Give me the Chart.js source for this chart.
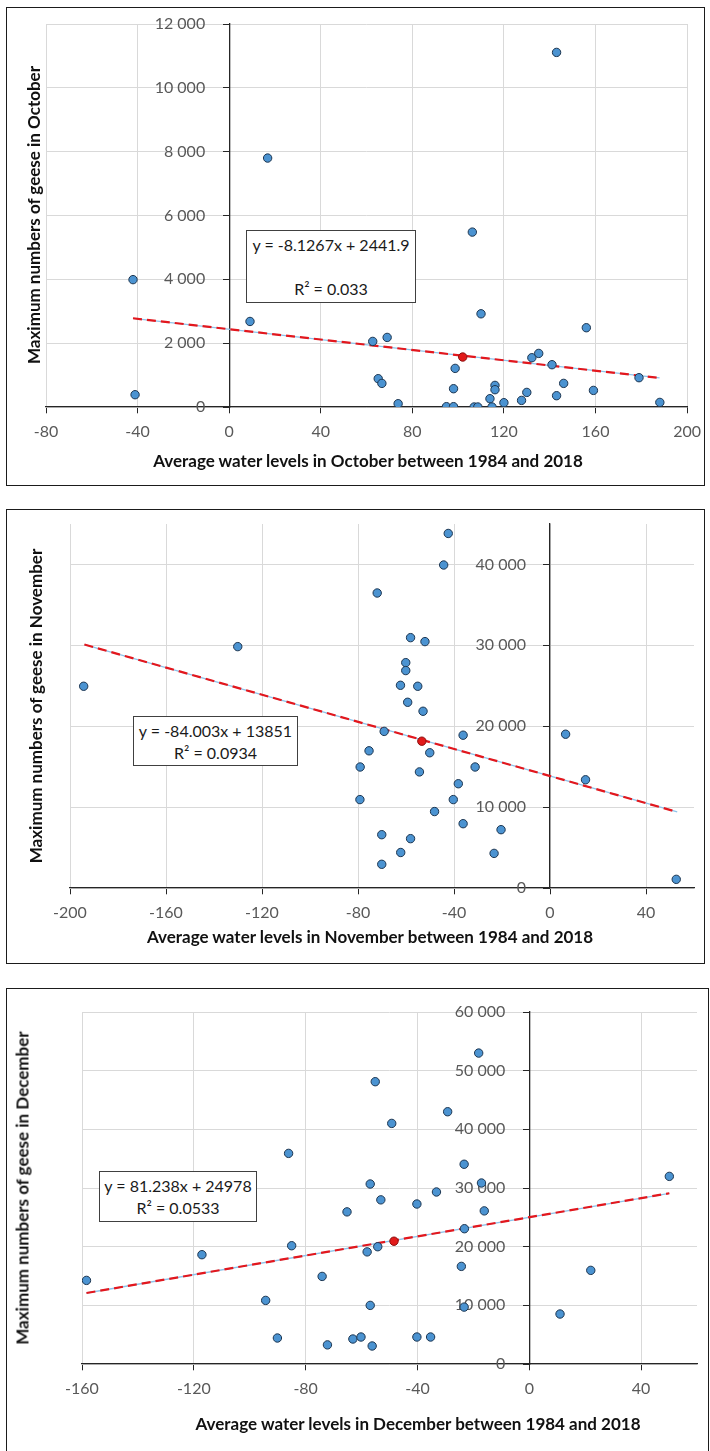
<!DOCTYPE html>
<html>
<head>
<meta charset="utf-8">
<script src="https://cdn.jsdelivr.net/npm/chart.js@4.4.1/dist/chart.umd.min.js"></script>
<style>
  body { margin: 0; background: #fff; font-family: Lato, "Noto Sans", sans-serif; }
  #page { position: relative; width: 710px; height: 1451px; overflow: hidden; }
  .panel { position: absolute; border: 1.5px solid #1b1b1b; box-sizing: border-box; }
  .plot { position: absolute; left: 0; width: 710px; }
  .ytitle, .xtitle { position: absolute; font-weight: bold; font-size: 17px; color: #111; white-space: nowrap; }
  .ytitle { transform: translate(-50%, -50%) rotate(-90deg); }
  .xtitle { transform: translate(-50%, -50%); }
  .eq { position: absolute; box-sizing: border-box; border: 1.3px solid #404040; background: #fff;
        text-align: center; font-size: 16px; line-height: 22px; color: #1a1a1a; padding-top: 3px; }
</style>
</head>
<body>
<div id="page">
  <div class="panel" style="left:6px;top:7px;width:699px;height:479px"></div>
  <div class="panel" style="left:6px;top:509px;width:699px;height:455px"></div>
  <div class="panel" style="left:6px;top:988px;width:703px;height:480px"></div>

  <div class="plot" style="top:7px;height:478px"><canvas id="octChart"></canvas></div>
  <div class="plot" style="top:509px;height:454px"><canvas id="novChart"></canvas></div>
  <div class="plot" style="top:988px;height:463px"><canvas id="decChart"></canvas></div>

  <div class="ytitle" style="left:33px;top:215px">Maximum numbers of geese in October</div>
  <div class="xtitle" style="left:368px;top:460px">Average water levels in October between 1984 and 2018</div>
  <div class="eq" style="left:246px;top:230px;width:170px;height:73px">y = -8.1267x + 2441.9<br><br>R² = 0.033</div>

  <div class="ytitle" style="left:35px;top:706px">Maximum numbers of geese in November</div>
  <div class="xtitle" style="left:370px;top:936px">Average water levels in November between 1984 and 2018</div>
  <div class="eq" style="left:133px;top:716px;width:165px;height:50px">y = -84.003x + 13851<br>R² = 0.0934</div>

  <div class="ytitle" style="left:22px;top:1188px">Maximum numbers of geese in December</div>
  <div class="xtitle" style="left:418px;top:1423px">Average water levels in December between 1984 and 2018</div>
  <div class="eq" style="left:99px;top:1171px;width:158px;height:51px">y = 81.238x + 24978<br>R² = 0.0533</div>
</div>

<script>
// October
const octX = [-42, -41.1, 9.1, 16.8, 143, 106.2, 110, 156, 62.7, 69, 132.2, 135.2, 141, 98.7, 65.1, 66.7,
  98, 116.1, 116.1, 146.1, 159.1, 179, 130, 143, 113.9, 127.7, 120, 73.8, 188.1, 94.9, 98, 107, 108.6, 114.8];
const octY = [3990, 385, 2680, 7800, 11110, 5480, 2920, 2484, 2055, 2180, 1544, 1679, 1325, 1210, 887, 740,
  573, 677, 542, 740, 520, 918, 457, 354, 260, 207, 135, 103, 144, 10, 10, 0, 0, 0];
const octMean = [102, 1566];
const octTrendX = [-42, 188];
const octTrendY = [2780, 910];
const octXTicks = [-80, -40, 0, 40, 80, 120, 160, 200];
const octYTicks = [0, 2000, 4000, 6000, 8000, 10000, 12000];

// November
const novX = [-194.3, -130.1, -42.4, -44.3, -72, -58.1, -52.1, -60.1, -60.1, -62.3, -55.1, -59.3, -52.9,
  -69.1, -36.2, 6.5, -75.4, -50.1, -79.1, -31.2, -54.4, 14.8, -38.2, -79.2, -40.3, -48.1, -36.2, -20.4,
  -70.1, -58.1, -62.2, -23.3, -70.1, 52.6];
const novY = [24940, 29840, 43830, 39930, 36470, 30950, 30460, 27860, 26880, 25060, 24940, 22960, 21850,
  19360, 18890, 19010, 16960, 16720, 14960, 14960, 14350, 13380, 12890, 10930, 10930, 9450, 7950, 7210,
  6590, 6100, 4390, 4280, 2930, 1070];
const novMean = [-53.4, 18150];
const novTrendX = [-194, 53];
const novTrendY = [30100, 9400];
const novXTicks = [-200, -160, -120, -80, -40, 0, 40];
const novYTicks = [0, 10000, 20000, 30000, 40000];

// December
const decX = [-158.4, -117.1, -86.1, -85, -74.1, -94.3, -90.1, -72.2, -65.2, -63.1, -18.1, -55.1, -29.2,
  -49.2, -23.3, -56.9, -17.1, 50.1, -33.2, -53.1, -40.2, -16.1, -23.2, -54.2, -58, -24.3, 22, -56.9,
  -23.3, 11, -60.2, -40.2, -35.3, -56.2];
const decY = [14250, 18630, 35900, 20160, 14930, 10840, 4430, 3260, 25930, 4260, 53000, 48120, 43000,
  41010, 34050, 30680, 30850, 31980, 29320, 27980, 27270, 26100, 23060, 19990, 19110, 16640, 15960, 9990,
  9700, 8520, 4600, 4600, 4600, 3070];
const decMean = [-48.4, 20930];
const decTrendX = [-158.4, 50.1];
const decTrendY = [12100, 29100];
const decXTicks = [-160, -120, -80, -40, 0, 40];
const decYTicks = [0, 10000, 20000, 30000, 40000, 50000, 60000];

function spaced(v) {
  return String(v).replace(/\B(?=(\d{3})+(?!\d))/g, " ");
}

function pts(xs, ys) {
  return xs.map((x, i) => ({ x: x, y: ys[i] }));
}

function fixedTicks(values) {
  return (axis) => {
    axis.ticks = values.map((v) => ({ value: v }));
  };
}

const tickFont = { family: "Lato", size: 16 };
const gridColor = "#d9d9d9";
const axisColor = "#262626";

function makeChart(id, o) {
  return new Chart(document.getElementById(id), {
    type: "scatter",
    data: {
      datasets: [
        {
          data: pts(o.trendX, o.trendY),
          showLine: true,
          borderColor: "#8ec3ea",
          borderWidth: 1.3,
          pointRadius: 0,
          order: 3
        },
        {
          data: pts(o.trendX, o.trendY),
          showLine: true,
          borderColor: "#e3171d",
          borderWidth: 2.2,
          borderDash: [9, 5],
          pointRadius: 0,
          order: 2
        },
        {
          data: pts(o.xs, o.ys),
          pointRadius: 4.2,
          pointBackgroundColor: "#4b93d1",
          pointBorderColor: "#1c3550",
          pointBorderWidth: 1,
          order: 1
        },
        {
          data: [{ x: o.mean[0], y: o.mean[1] }],
          pointRadius: 4.2,
          pointBackgroundColor: "#e21a1a",
          pointBorderColor: "#8a1010",
          pointBorderWidth: 1,
          order: 0
        }
      ]
    },
    options: {
      responsive: true,
      maintainAspectRatio: false,
      animation: false,
      layout: { padding: o.pad },
      plugins: { legend: { display: false }, tooltip: { enabled: false } },
      scales: {
        x: {
          type: "linear",
          position: { y: 0 },
          min: o.xMin,
          max: o.xMax,
          afterBuildTicks: fixedTicks(o.xTicks),
          grid: { color: gridColor, lineWidth: 1, tickLength: 6, tickColor: axisColor },
          border: { color: axisColor, width: 1.3 },
          ticks: { color: "#595959", font: tickFont, padding: 9 }
        },
        y: {
          type: "linear",
          position: { x: 0 },
          min: 0,
          max: o.yMax,
          afterBuildTicks: fixedTicks(o.yTicks),
          grid: { color: gridColor, lineWidth: 1, tickLength: 6, tickColor: axisColor },
          border: { color: axisColor, width: 1.3 },
          ticks: {
            color: "#595959",
            font: tickFont,
            callback: (v) => spaced(v) + "\u2002\u2002\u2002"
          }
        }
      }
    }
  });
}

makeChart("octChart", {
  xs: octX, ys: octY, mean: octMean, trendX: octTrendX, trendY: octTrendY,
  xMin: -80, xMax: 200, yMax: 12000, xTicks: octXTicks, yTicks: octYTicks,
  pad: { left: 46, right: 20, top: 17, bottom: 78 }
});

makeChart("novChart", {
  xs: novX, ys: novY, mean: novMean, trendX: novTrendX, trendY: novTrendY,
  xMin: -200, xMax: 60, yMax: 45000, xTicks: novXTicks, yTicks: novYTicks,
  pad: { left: 70, right: 16, top: 15, bottom: 75 }
});

makeChart("decChart", {
  xs: decX, ys: decY, mean: decMean, trendX: decTrendX, trendY: decTrendY,
  xMin: -160, xMax: 60, yMax: 60000, xTicks: decXTicks, yTicks: decYTicks,
  pad: { left: 82, right: 13, top: 24, bottom: 87 }
});
</script>
</body>
</html>
